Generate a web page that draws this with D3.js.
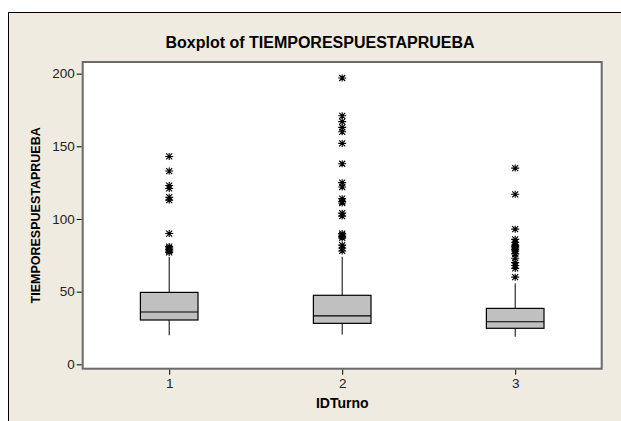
<!DOCTYPE html>
<html>
<head>
<meta charset="utf-8">
<script src="https://cdn.jsdelivr.net/npm/d3@7"></script>
<style>
  html, body { margin: 0; padding: 0; background: #fff; }
  svg { display: block; }
  text { font-family: "Liberation Sans", Arial, sans-serif; }
</style>
</head>
<body>
<svg id="chart" width="621" height="421"></svg>
<script>
// ---- data ----
const categories = ["1", "2", "3"];
const whiskerLow  = [20, 20.5, 19];
const q1          = [30.5, 28.2, 24.8];
const median      = [36, 33.4, 29.3];
const q3          = [49.5, 47.5, 38.5];
const whiskerHigh = [74, 74, 55.7];
const outliers1 = [143, 133, 123, 121, 115, 113, 90, 81, 80, 79, 78, 77];
const outliers2 = [197, 171, 167, 163, 160, 152, 138, 125, 122, 114, 112, 111, 104, 102, 90, 89, 88, 87, 82, 80, 78];
const outliers3 = [135, 117, 93, 86, 84, 82, 81, 80, 79, 78, 76, 73, 70, 68, 66, 60];
const outliers = [outliers1, outliers2, outliers3];
const yTicks = [0, 50, 100, 150, 200];
const titleText = "Boxplot of TIEMPORESPUESTAPRUEBA";
const xLabel = "IDTurno";
const yLabel = "TIEMPORESPUESTAPRUEBA";

// ---- layout ----
const svg = d3.select("#chart");
const plot = { left: 82.7, right: 601.7, top: 62, bottom: 368.7 };

svg.append("rect")
  .attr("x", 8.5).attr("y", 12.5).attr("width", 700).attr("height", 500)
  .attr("fill", "#EFEBE1").attr("stroke", "#000").attr("stroke-width", 1);

const x = d3.scaleLinear().domain([0.5, 3.5]).range([plot.left, plot.right]);
const y = d3.scaleLinear().domain([-3, 208]).range([plot.bottom, plot.top]);

// plot area
svg.append("rect")
  .attr("x", plot.left).attr("y", plot.top)
  .attr("width", plot.right - plot.left).attr("height", plot.bottom - plot.top)
  .attr("fill", "#fff").attr("stroke", "#6a6a6a").attr("stroke-width", 2);

// axes
const yAxis = svg.append("g")
  .attr("transform", `translate(${plot.left - 1},0)`)
  .call(d3.axisLeft(y).tickValues(yTicks).tickSize(5).tickPadding(2).tickFormat(d3.format("d")));
const xAxis = svg.append("g")
  .attr("transform", `translate(0,${plot.bottom + 1})`)
  .call(d3.axisBottom(x).tickValues([1, 2, 3]).tickSize(5).tickPadding(4).tickFormat((d, i) => categories[i]));
[xAxis, yAxis].forEach(g => {
  g.select(".domain").remove();
  g.selectAll("line").attr("stroke", "#000");
  g.selectAll("text").attr("fill", "#222").style("font-size", "13.5px")
    .style("font-family", '"Liberation Sans", Arial, sans-serif');
});

// boxes
const boxW = 0.333;
const g = svg.append("g");
categories.forEach((c, i) => {
  const cx = x(i + 1);
  g.append("line").attr("x1", cx).attr("x2", cx)
    .attr("y1", y(q3[i])).attr("y2", y(whiskerHigh[i]))
    .attr("stroke", "#000").attr("stroke-width", 1);
  g.append("line").attr("x1", cx).attr("x2", cx)
    .attr("y1", y(q1[i])).attr("y2", y(whiskerLow[i]))
    .attr("stroke", "#000").attr("stroke-width", 1);
  g.append("rect")
    .attr("x", x(i + 1 - boxW / 2)).attr("width", x(i + 1 + boxW / 2) - x(i + 1 - boxW / 2))
    .attr("y", y(q3[i])).attr("height", y(q1[i]) - y(q3[i]))
    .attr("fill", "#C0C0C0").attr("stroke", "#000").attr("stroke-width", 1.2);
  g.append("line")
    .attr("x1", x(i + 1 - boxW / 2)).attr("x2", x(i + 1 + boxW / 2))
    .attr("y1", y(median[i])).attr("y2", y(median[i]))
    .attr("stroke", "#000").attr("stroke-width", 1.2);
  const star = "M-4,0L4,0M0,-3.5L0,3.5M-3,-3L3,3M-3,3L3,-3";
  outliers[i].forEach(v => {
    g.append("path").attr("d", star)
      .attr("transform", `translate(${cx},${y(v)})`)
      .attr("fill", "none").attr("stroke", "#000").attr("stroke-width", 1.1);
  });
});

// labels
svg.append("text").attr("x", 320).attr("y", 48).attr("text-anchor", "middle")
  .style("font-size", "16px").style("font-weight", "bold").attr("fill", "#000").text(titleText);
svg.append("text").attr("x", x(2)).attr("y", 408).attr("text-anchor", "middle")
  .style("font-size", "14px").style("font-weight", "bold").attr("fill", "#000").text(xLabel);
svg.append("text").attr("transform", `translate(39.5,${(plot.top + plot.bottom) / 2}) rotate(-90)`)
  .attr("text-anchor", "middle")
  .style("font-size", "12.5px").style("font-weight", "bold").attr("fill", "#000").text(yLabel);
</script>
</body>
</html>
